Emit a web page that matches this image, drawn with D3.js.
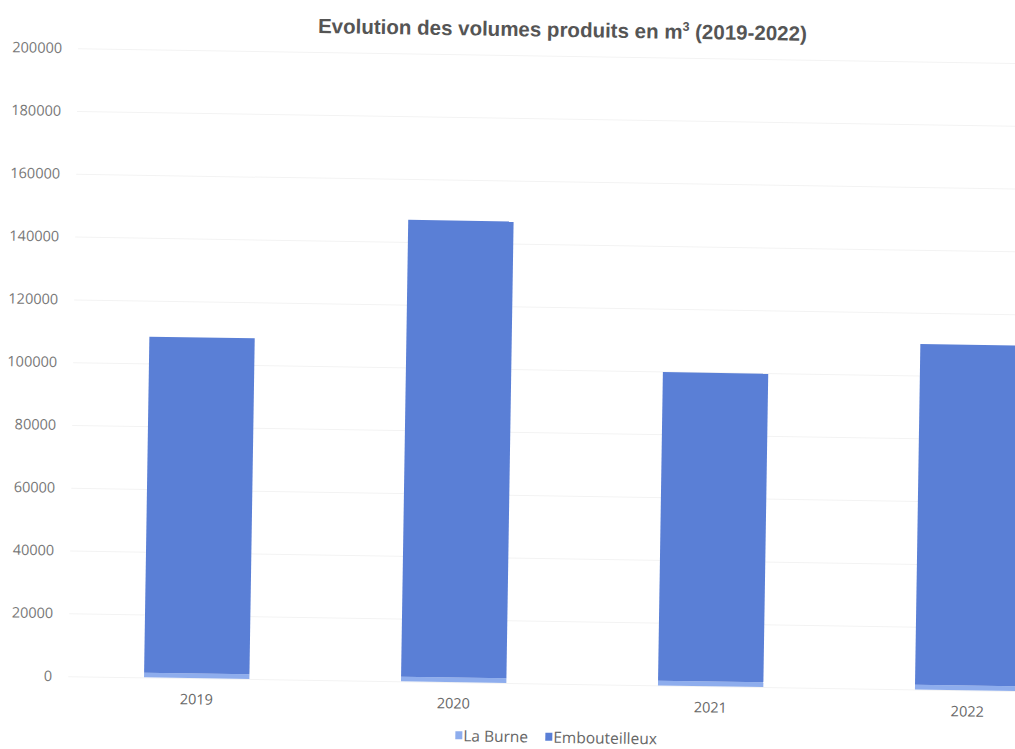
<!DOCTYPE html>
<html>
<head>
<meta charset="utf-8">
<script src="https://cdn.jsdelivr.net/npm/d3@7"></script>
<style>
  body { margin: 0; background: #fff; overflow: hidden; }
</style>
</head>
<body>
<div id="chart"></div>
<script>
// data
const years = ["2019", "2020", "2021", "2022"];
const laBurne = [1500, 1500, 1500, 1500];
const embouteilleux = [107000, 145500, 98300, 108500];
const yTicks = [0, 20000, 40000, 60000, 80000, 100000, 120000, 140000, 160000, 180000, 200000];
const seriesNames = ["La Burne", "Embouteilleux"];
const seriesColors = ["#8eaded", "#5a7fd6"];

const width = 1015;
const height = 749;
const marginTop = 55;
const marginBottom = 66;
const marginLeft = 73;
const plotRight = 1101;   // the scan cuts the chart off on the right

const rows = years.map((yr, i) => ({year: yr, "La Burne": laBurne[i], "Embouteilleux": embouteilleux[i]}));
const stacked = d3.stack().keys(seriesNames)(rows);

const x = d3.scaleBand()
    .domain(years)
    .range([marginLeft, plotRight])
    .paddingInner(0.59)
    .paddingOuter(0.295);

const y = d3.scaleLinear()
    .domain([0, 200000])
    .range([height - marginBottom, marginTop]);

const color = d3.scaleOrdinal(seriesNames, seriesColors);

const svg = d3.select("#chart").append("svg")
    .attr("width", width)
    .attr("height", height)
    .attr("viewBox", [0, 0, width, height]);

// the page was scanned a little crooked
const root = svg.append("g")
    .attr("transform", "rotate(0.9, 507, 375)");

// gridlines (barely visible on the scan)
root.append("g")
    .attr("transform", `translate(${marginLeft},0)`)
    .call(d3.axisLeft(y).tickValues(yTicks).tickSize(-(plotRight - marginLeft)).tickFormat(""))
    .call(g => g.select(".domain").remove())
    .call(g => g.selectAll(".tick line").attr("stroke", "#f3f3f3"));

// y labels
root.append("g")
    .attr("transform", `translate(57,0)`)
    .call(d3.axisLeft(y).tickValues(yTicks).tickSize(0).tickPadding(0).tickFormat(d3.format("d")))
    .call(g => g.select(".domain").remove())
    .call(g => g.selectAll("text")
        .attr("fill", "#777")
        .style("font-family", "'Open Sans', sans-serif")
        .style("font-size", "14.5px"));

// stacked bars
root.append("g")
  .selectAll("g")
  .data(stacked)
  .join("g")
    .attr("fill", d => color(d.key))
  .selectAll("rect")
  .data(d => d)
  .join("rect")
    .attr("x", d => x(d.data.year))
    .attr("y", d => y(d[1]))
    .attr("height", d => y(d[0]) - y(d[1]))
    .attr("width", x.bandwidth());

// x labels
root.append("g")
    .attr("transform", `translate(0,${height - marginBottom})`)
    .call(d3.axisBottom(x).tickSize(0).tickPadding(16))
    .call(g => g.select(".domain").remove())
    .call(g => g.selectAll("text")
        .attr("fill", "#666")
        .style("font-family", "'Open Sans', sans-serif")
        .style("font-size", "14.5px"));

// title
root.append("text")
    .attr("x", 557)
    .attr("y", 36)
    .attr("text-anchor", "middle")
    .attr("fill", "#555")
    .style("font-family", "'Liberation Sans', Arial, sans-serif")
    .style("font-weight", "bold")
    .style("font-size", "20.5px")
    .text("Evolution des volumes produits en m")
  .append("tspan")
    .attr("dy", -8)
    .style("font-size", "12.5px")
    .text("3")
  .clone()
    .attr("dy", 8)
    .style("font-size", "20.5px")
    .text(" (2019-2022)");

// legend
const legend = root.append("g")
    .attr("transform", "translate(461,742)")
    .style("font-family", "'Open Sans', sans-serif")
    .style("font-size", "15.5px");

const items = legend.selectAll("g")
    .data(seriesNames)
    .join("g")
    .attr("transform", (d, i) => `translate(${i * 90},0)`);

items.append("rect")
    .attr("x", 0)
    .attr("y", -10)
    .attr("width", 7)
    .attr("height", 8)
    .attr("fill", d => color(d));

items.append("text")
    .attr("x", 8)
    .attr("y", 0)
    .attr("fill", "#666")
    .text(d => d);
</script>
</body>
</html>
